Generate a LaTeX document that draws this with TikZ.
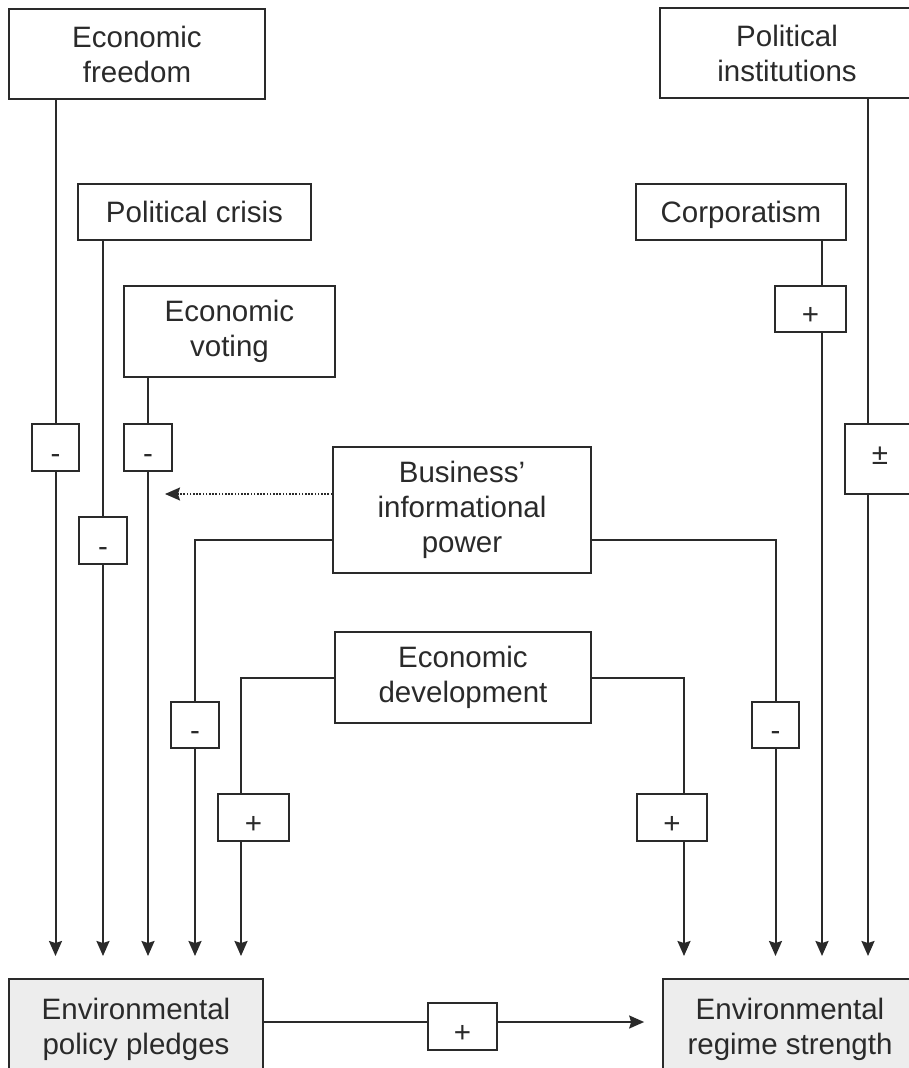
\documentclass[tikz,border=0pt]{standalone}
\usepackage{fontspec}
\setmainfont{Liberation Sans}
\usetikzlibrary{arrows.meta}
\definecolor{ink}{HTML}{2A2A2A}
\definecolor{boxfill}{HTML}{EDEDED}
\begin{document}
\begin{tikzpicture}[x=1pt,y=-1pt,
  lbl/.style={draw=ink, line width=1.7pt, inner sep=0pt, align=center, text=ink,
    font=\fontsize{29.5}{35}\selectfont},
  outcome/.style={lbl, fill=boxfill},
  sgn/.style={draw=ink, line width=1.7pt, inner sep=0pt, fill=white, text=ink,
    font=\fontsize{29.5}{35}\selectfont, text height=31pt, text depth=0pt},
  link/.style={draw=ink, line width=2pt},
  arr/.style={link, -{Stealth[length=15pt,width=13pt,inset=2pt]}}
]
\useasboundingbox (0,0) rectangle (909,1068);
\clip (0,0) rectangle (909,1068);

% main boxes
\node[lbl, minimum width=256pt, minimum height=90pt] (ef) at (137,54) {Economic\\freedom};
\node[lbl, minimum width=254pt, minimum height=90pt] (pi) at (787,53) {Political\\institutions};
\node[lbl, minimum width=233pt, minimum height=56pt] (pc) at (194.5,212) {Political crisis};
\node[lbl, minimum width=210pt, minimum height=56pt, text depth=0pt] (corp) at (741,212) {Corporatism};
\node[lbl, minimum width=211pt, minimum height=91pt] (ev) at (229.5,331.5) {Economic\\voting};
\node[lbl, minimum width=258pt, minimum height=126pt] (bip) at (462,510) {Business’\\informational\\power};
\node[lbl, minimum width=256pt, minimum height=91pt] (ed) at (463,677.5) {Economic\\development};
\node[outcome, minimum width=254pt, minimum height=100pt] (pp) at (136,1029) {Environmental\\policy pledges};
\node[outcome, minimum width=254pt, minimum height=100pt] (rs) at (790,1029) {Environmental\\regime strength};

% sign boxes
\node[sgn, minimum width=47pt, minimum height=47pt] (m1) at (55.5,447.5) {-};
\node[sgn, minimum width=48pt, minimum height=47pt] (m3) at (148,447.5) {-};
\node[sgn, minimum width=48pt, minimum height=47pt] (m2) at (103,540.5) {-};
\node[sgn, minimum width=48pt, minimum height=46pt] (m4) at (195,725) {-};
\node[sgn, minimum width=47pt, minimum height=46pt] (m5) at (775.5,725) {-};
\node[sgn, minimum width=71pt, minimum height=47pt] (p1) at (253.5,817.5) {+\hspace{13pt}};
\node[sgn, minimum width=70pt, minimum height=47pt] (p2) at (672,817.5) {+\hspace{13pt}};
\node[sgn, minimum width=71pt, minimum height=46pt] (p3) at (810.5,309) {+\hspace{13pt}};
\node[sgn, minimum width=70pt, minimum height=70pt, text height=10pt] (pm) at (880,459) {±\hspace{14pt}};
\node[sgn, minimum width=69pt, minimum height=47pt] (bp) at (462.5,1026.5) {+\hspace{12pt}};

% helper coordinates
\coordinate (tip) at (0,956);
\coordinate (by) at (0,540);
\coordinate (e1) at (241,678);
\coordinate (e2) at (684,678);
\coordinate (c1) at (822,0);
\coordinate (c2) at (868,0);
\coordinate (dt) at (165,494);
\coordinate (hy) at (0,1022);

% left side
\draw[link] (ef.south -| m1) -- (m1.north);
\draw[arr] (m1.south) -- (m1 |- tip);
\draw[link] (pc.south -| m2) -- (m2.north);
\draw[arr] (m2.south) -- (m2 |- tip);
\draw[link] (ev.south -| m3) -- (m3.north);
\draw[arr] (m3.south) -- (m3 |- tip);
\draw[link] (bip.west |- by) -| (m4.north);
\draw[arr] (m4.south) -- (m4 |- tip);
\draw[link] (ed.west |- e1) -| (e1 |- p1.north);
\draw[arr] (e1 |- p1.south) -- (e1 |- tip);

% right side
\draw[link] (bip.east |- by) -| (m5.north);
\draw[arr] (m5.south) -- (m5 |- tip);
\draw[link] (ed.east |- e2) -| (e2 |- p2.north);
\draw[arr] (e2 |- p2.south) -- (e2 |- tip);
\draw[link] (corp.south -| c1) -- (c1 |- p3.north);
\draw[arr] (c1 |- p3.south) -- (c1 |- tip);
\draw[link] (pi.south -| c2) -- (c2 |- pm.north);
\draw[arr] (c2 |- pm.south) -- (c2 |- tip);

% dotted
\draw[arr, line width=1.6pt, dash pattern=on 1.6pt off 1.6pt] (bip.west |- dt) -- (dt);

% bottom
\draw[link] (pp.east |- hy) -- (bp.west |- hy);
\draw[arr, shorten >=18pt] (bp.east |- hy) -- (rs.west |- hy);
\end{tikzpicture}
\end{document}
